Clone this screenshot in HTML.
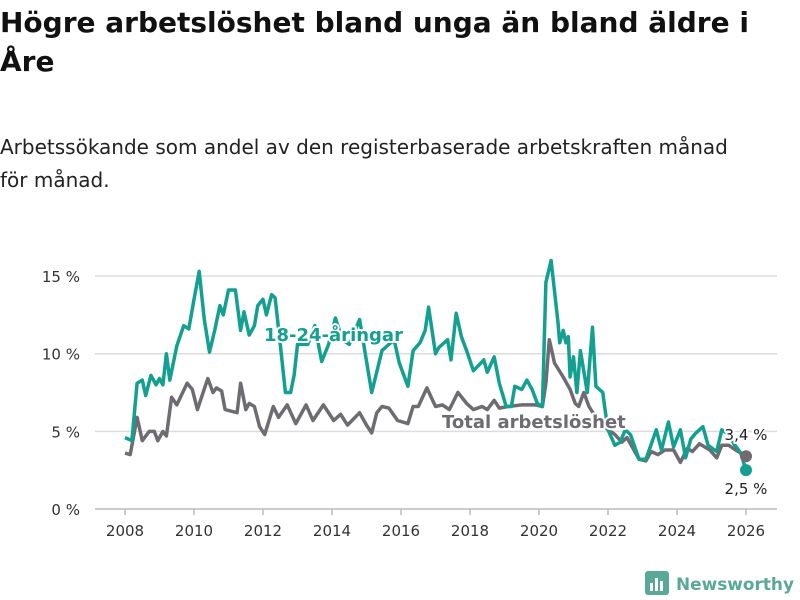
<!DOCTYPE html>
<html><head><meta charset="utf-8">
<style>
body{margin:0;width:800px;height:600px;background:#fff;overflow:hidden;font-family:"DejaVu Sans","Liberation Sans",sans-serif;color:#111}
h1{position:absolute;left:0;top:3px;margin:0;font-size:28px;line-height:39px;font-weight:bold;width:790px}
p{position:absolute;left:0;top:131px;margin:0;font-size:20px;line-height:33px;width:760px;color:#222}
svg{position:absolute;left:0;top:0}
</style></head><body>
<h1>Högre arbetslöshet bland unga än bland äldre i Åre</h1>
<p>Arbetssökande som andel av den registerbaserade arbetskraften månad för månad.</p>
<svg id="c" width="800" height="600"></svg>
<script>
const yTicks=[0,5,10,15];
const yTickLabels=["0 %","5 %","10 %","15 %"];
const xTicks=[2008,2010,2012,2014,2016,2018,2020,2022,2024,2026];
const youthT=[2008.0,2008.2,2008.35,2008.5,2008.6,2008.75,2008.9,2009.0,2009.1,2009.2,2009.3,2009.5,2009.7,2009.85,2010.0,2010.15,2010.3,2010.45,2010.6,2010.75,2010.85,2011.0,2011.2,2011.35,2011.45,2011.6,2011.75,2011.85,2012.0,2012.1,2012.25,2012.35,2012.5,2012.65,2012.8,2012.9,2013.0,2013.3,2013.5,2013.7,2013.9,2014.1,2014.3,2014.5,2014.8,2015.15,2015.45,2015.8,2015.95,2016.2,2016.35,2016.55,2016.7,2016.8,2017.0,2017.1,2017.35,2017.45,2017.6,2017.75,2017.9,2018.1,2018.4,2018.5,2018.7,2018.85,2019.05,2019.2,2019.3,2019.5,2019.65,2019.8,2019.95,2020.1,2020.2,2020.35,2020.55,2020.6,2020.7,2020.78,2020.85,2020.9,2021.0,2021.1,2021.2,2021.4,2021.55,2021.65,2021.75,2021.85,2021.9,2022.0,2022.2,2022.35,2022.5,2022.65,2022.9,2023.1,2023.4,2023.55,2023.75,2023.9,2024.1,2024.25,2024.4,2024.55,2024.75,2024.9,2025.15,2025.3,2025.5,2025.65,2025.85,2026.0];
const youthV=[4.6,4.4,8.1,8.3,7.3,8.6,8.0,8.4,8.0,10.0,8.3,10.5,11.8,11.6,13.5,15.3,12.2,10.1,11.5,13.1,12.5,14.1,14.1,11.5,12.7,11.2,11.8,13.1,13.5,12.5,13.8,13.6,10.6,7.5,7.5,8.6,10.6,10.6,11.8,9.5,10.6,12.3,10.9,10.6,12.2,7.5,10.2,10.9,9.4,7.9,10.2,10.7,11.5,13.0,10.0,10.4,10.9,9.6,12.6,11.1,10.2,8.9,9.6,8.8,9.8,8.1,6.6,6.6,7.9,7.7,8.3,7.7,6.8,6.6,14.6,16.0,12.0,10.7,11.5,10.7,11.1,8.5,9.8,7.5,10.2,7.5,11.7,7.9,7.7,7.5,6.6,5.1,4.1,4.3,5.1,4.8,3.2,3.2,5.1,3.8,5.6,4.0,5.1,3.3,4.5,4.9,5.3,4.1,3.7,5.1,4.8,4.2,3.6,2.5];
const totalT=[2008.0,2008.15,2008.35,2008.5,2008.7,2008.85,2008.95,2009.1,2009.2,2009.35,2009.5,2009.8,2009.95,2010.1,2010.4,2010.55,2010.65,2010.8,2010.9,2011.25,2011.35,2011.5,2011.6,2011.75,2011.9,2012.05,2012.3,2012.45,2012.7,2012.95,2013.25,2013.45,2013.75,2014.05,2014.25,2014.45,2014.8,2015.0,2015.15,2015.3,2015.45,2015.65,2015.9,2016.2,2016.35,2016.5,2016.75,2017.0,2017.2,2017.4,2017.65,2017.9,2018.1,2018.35,2018.5,2018.7,2018.85,2019.1,2019.5,2019.9,2020.1,2020.2,2020.3,2020.45,2020.7,2020.9,2021.05,2021.15,2021.3,2021.45,2021.65,2021.8,2021.95,2022.2,2022.4,2022.55,2022.7,2022.9,2023.1,2023.25,2023.45,2023.65,2023.9,2024.1,2024.3,2024.45,2024.65,2024.95,2025.15,2025.3,2025.5,2025.7,2026.0];
const totalV=[3.6,3.5,5.9,4.4,5.0,5.0,4.4,5.0,4.7,7.2,6.7,8.1,7.7,6.4,8.4,7.5,7.8,7.6,6.4,6.2,8.1,6.4,6.8,6.6,5.3,4.8,6.6,5.9,6.7,5.5,6.7,5.7,6.7,5.7,6.1,5.4,6.2,5.4,4.9,6.2,6.6,6.5,5.7,5.5,6.6,6.6,7.8,6.6,6.7,6.4,7.5,6.8,6.4,6.6,6.4,7.0,6.5,6.6,6.7,6.7,6.6,8.1,10.9,9.4,8.5,7.7,6.8,6.6,7.5,6.6,5.9,5.5,5.2,4.8,4.3,4.6,4.0,3.2,3.1,3.7,3.5,3.8,3.8,3.0,3.9,3.7,4.2,3.8,3.3,4.1,4.1,3.8,3.4];
const NS="http://www.w3.org/2000/svg";
const svg=document.getElementById('c');
const x0=125,x1=746,y0=509,pxPerPct=15.53;
const xs=t=>x0+(t-2008)*(x1-x0)/18;
const ys=v=>y0-v*pxPerPct;
function el(tag,attrs,parent){const e=document.createElementNS(NS,tag);for(const k in attrs)e.setAttribute(k,attrs[k]);(parent||svg).appendChild(e);return e;}
yTicks.forEach((v,i)=>{
  const g=el('line',{x1:95,x2:777,y1:ys(v),y2:ys(v),stroke:v===0?'#bbb':'#ddd','stroke-width':1.5});
  
  
  const t=el('text',{x:80,y:ys(v)+6,'text-anchor':'end','font-size':15,fill:'#333'});
  t.textContent=yTickLabels[i];
  
  
});
xTicks.forEach(v=>{
  const tk=el('line',{x1:xs(v),x2:xs(v),y1:509,y2:515,stroke:'#bbb','stroke-width':1.5});
  
  
  const t=el('text',{x:xs(v),y:536,'text-anchor':'middle','font-size':15,fill:'#333'});
  t.textContent=String(v);
  
  
});
function line(T,V,color,name){
  const d=T.map((t,i)=>(i?'L':'M')+xs(t).toFixed(1)+','+ys(V[i]).toFixed(1)).join('');
  const p=el('path',{d:d,fill:'none',stroke:color,'stroke-width':3.5,'stroke-linejoin':'round'});
  
  
}
line(totalT,totalV,'#6e6b71','total-line');
line(youthT,youthV,'#13a090','youth-line');
function label(x,y,txt,color,name,anchor,size,weight){
  const t=el('text',{x:x,y:y,'text-anchor':anchor,'font-size':size,'font-weight':weight,fill:color,stroke:'#fff','stroke-width':4,'paint-order':'stroke','stroke-linejoin':'round'});
  t.textContent=txt;
  
  
}
label(264,341,'18-24-åringar','#13a090','youth-label','start',18,'bold');
label(442,428,'Total arbetslöshet','#6e6b71','total-label','start',18,'bold');
const d1=el('circle',{cx:xs(totalT[totalT.length-1]),cy:ys(totalV[totalV.length-1]),r:6,fill:'#6e6b71'});


const d2=el('circle',{cx:xs(youthT[youthT.length-1]),cy:ys(youthV[youthV.length-1]),r:6,fill:'#13a090'});


label(746,440,'3,4 %','#222','total-end-value','middle',15,'normal');
label(746,494,'2,5 %','#222','youth-end-value','middle',15,'normal');
const lg=el('g',{});


el('rect',{x:645,y:571,width:24,height:24,rx:3,fill:'#5aa897'},lg);
el('rect',{x:650,y:583,width:3,height:8,fill:'#fff'},lg);
el('rect',{x:655,y:578,width:3,height:13,fill:'#fff'},lg);
el('rect',{x:660,y:581,width:3,height:10,fill:'#fff'},lg);
const lt=el('text',{x:676,y:590,'font-size':17,'font-weight':'bold',fill:'#5aa897',textLength:118,lengthAdjust:'spacingAndGlyphs'},lg);
lt.textContent='Newsworthy';
</script>
</body></html>
